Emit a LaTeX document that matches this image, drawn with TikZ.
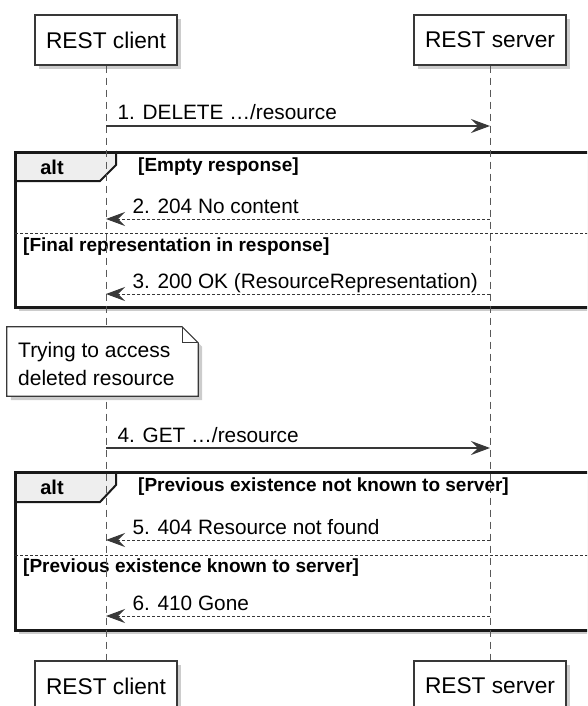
\documentclass[tikz,border=0pt]{standalone}
\usepackage{fontspec}
\setmainfont{Liberation Sans}
\usepackage{tikz}
\usetikzlibrary{arrows.meta, shadows}
\definecolor{lineGray}{HTML}{383838}
\definecolor{tabGray}{HTML}{EEEEEE}
\tikzstyle{participant} = [rectangle, draw=lineGray, line width=1.3pt, fill=white, minimum height=50pt, inner xsep=11pt, font=\fontsize{22.7}{26}\selectfont, drop shadow={shadow xshift=4pt, shadow yshift=-4pt, opacity=0.4}]
\tikzstyle{lifeline} = [draw=black!65, line width=1pt, dash pattern=on 7pt off 5pt]
\tikzstyle{request} = [draw=lineGray, line width=1.2pt, -{Stealth[length=19pt, width=14pt, inset=7pt]}]
\tikzstyle{reply} = [draw=lineGray, line width=1pt, dash pattern=on 3pt off 2pt, -{Stealth[length=19pt, width=14pt, inset=7pt]}]
\tikzstyle{msglabel} = [inner sep=0pt, anchor=base west, text=black, font=\fontsize{20.8}{25}\selectfont]
\tikzstyle{frame} = [fill=white, drop shadow={shadow xshift=4pt, shadow yshift=-4pt, opacity=0.4}]
\tikzstyle{frameline} = [draw=black!90, line width=3pt]
\tikzstyle{tab} = [draw=black!90, line width=2pt, fill=tabGray]
\tikzstyle{altlabel} = [inner sep=0pt, font=\fontsize{20}{24}\bfseries\selectfont]
\tikzstyle{guard} = [inner sep=0pt, anchor=west, font=\fontsize{19}{22}\bfseries\selectfont]
\tikzstyle{separator} = [draw=black!80, line width=1pt, dash pattern=on 3pt off 2pt]
\tikzstyle{note} = [draw=lineGray, line width=1.2pt, fill=white]
\tikzstyle{notetext} = [inner sep=0pt, anchor=west, align=left, font=\fontsize{21}{28}\selectfont]

\begin{document}
\begin{tikzpicture}[x=1pt, y=-1pt]
\useasboundingbox (0,0) rectangle (587,706);
\clip (0,0) rectangle (587,706);

\node (clientTop) [participant] at (106,40) {REST client};
\node (serverTop) [participant] at (490,40) {REST server};
\node (clientBot) [participant] at (106,686) {REST client};
\node (serverBot) [participant] at (490,686) {REST server};

\path[frame] (15,152) rectangle (600,307);
\filldraw[tab] (15,152) -- (116,152) -- (116,165) -- (100,181) -- (15,181) -- cycle;
\draw[frameline] (15,152) rectangle (600,307);
\draw[separator] (15,233) -- (600,233);
\node (altOne) [altlabel] at (52,167) {alt};
\node (guardEmpty) [guard] at (138,167) {[Empty response]};
\node (guardFinal) [guard] at (23,247) {[Final representation in response]};

\path[frame] (15,472) rectangle (600,630);
\filldraw[tab] (15,472) -- (116,472) -- (116,485) -- (100,502) -- (15,502) -- cycle;
\draw[frameline] (15,472) rectangle (600,630);
\draw[separator] (15,555) -- (600,555);
\node (altTwo) [altlabel] at (52,487) {alt};
\node (guardUnknown) [guard] at (138,487) {[Previous existence not known to server]};
\node (guardKnown) [guard] at (23,568) {[Previous existence known to server]};

\draw[lifeline] (clientTop.south) -- (clientBot.north);
\draw[lifeline] (serverTop.south) -- (serverBot.north);

\node (note) [inner sep=0pt, minimum width=191pt, minimum height=69pt] at (102.5,361.5) {};
\draw[note, drop shadow={shadow xshift=4pt, shadow yshift=-4pt, opacity=0.4}] (note.north west) -- ([xshift=-16pt]note.north east) -- ([yshift=-16pt]note.north east) -- (note.south east) -- (note.south west) -- cycle;
\draw[note, fill=none] ([xshift=-16pt]note.north east) |- ([yshift=-16pt]note.north east);
\node (noteText) [notetext] at (18,364) {Trying to access\\deleted resource};

\coordinate (c1) at (clientTop |- 0,126);
\coordinate (s1) at (serverTop |- 0,126);
\coordinate (c2) at (clientTop |- 0,219);
\coordinate (s2) at (serverTop |- 0,219);
\coordinate (c3) at (clientTop |- 0,294);
\coordinate (s3) at (serverTop |- 0,294);
\coordinate (c4) at (clientTop |- 0,448);
\coordinate (s4) at (serverTop |- 0,448);
\coordinate (c5) at (clientTop |- 0,540);
\coordinate (s5) at (serverTop |- 0,540);
\coordinate (c6) at (clientTop |- 0,616);
\coordinate (s6) at (serverTop |- 0,616);

\draw[request] (c1) -- (s1) node (lblDelete) [msglabel, pos=0, xshift=11pt, yshift=6pt] {1. DELETE …/resource};
\draw[reply] (s2) -- (c2) node (lblNoContent) [msglabel, pos=1, xshift=26pt, yshift=6pt] {2. 204 No content};
\draw[reply] (s3) -- (c3) node (lblOk) [msglabel, pos=1, xshift=26pt, yshift=6pt] {3. 200 OK (ResourceRepresentation)};
\draw[request] (c4) -- (s4) node (lblGet) [msglabel, pos=0, xshift=11pt, yshift=6pt] {4. GET …/resource};
\draw[reply] (s5) -- (c5) node (lblNotFound) [msglabel, pos=1, xshift=26pt, yshift=6pt] {5. 404 Resource not found};
\draw[reply] (s6) -- (c6) node (lblGone) [msglabel, pos=1, xshift=26pt, yshift=6pt] {6. 410 Gone};
\end{tikzpicture}
\end{document}
